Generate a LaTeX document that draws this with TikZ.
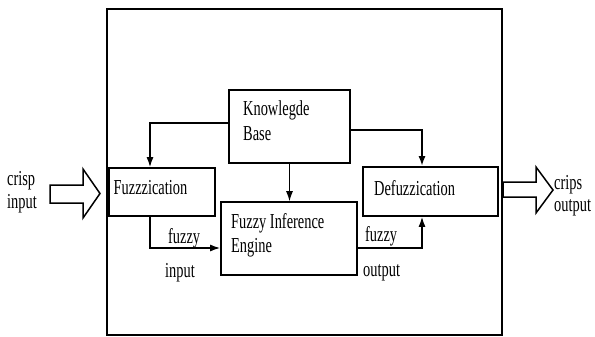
\documentclass[tikz,border=0pt]{standalone}
\usepackage{fontspec}
\usepackage{graphicx}
\setmainfont{Liberation Serif}
\usetikzlibrary{arrows.meta,calc}
\newcommand{\tallt}[1]{\scalebox{1}[1.48]{#1}}
\begin{document}
\begin{tikzpicture}[x=1pt,y=-1pt,
  box/.style={draw,line width=1.6pt,minimum width=#1,inner sep=0pt},
  lbl/.style={anchor=base west,inner sep=0pt,font=\fontsize{14.4}{23}\selectfont},
  arr/.style={line width=1.5pt,-{Latex[length=10pt,width=7pt]}},
  hollow/.style={draw,line width=1.5pt,line join=miter}]
\useasboundingbox (0,0) rectangle (595,337);
% outer frame
\draw[line width=1.3pt] (107,9) rectangle (502,335);
% blocks
\node[box=106pt,minimum height=48pt] (fz) at (162,192) {};
\node[box=121pt,minimum height=73pt] (kb) at (289.5,126.5) {};
\node[box=135pt,minimum height=49pt] (df) at (430.5,191.5) {};
\node[box=136pt,minimum height=73pt] (fie) at (289,238.5) {};
% block texts
\node[lbl] (t1) at (243,115.5) {\tallt{Knowlegde}};
\node[lbl] (t2) at (243,140.5) {\tallt{Base}};
\node[lbl] (t3) at (113.5,194) {\tallt{Fuzzzication}};
\node[lbl] (t4) at (374,195) {\tallt{Defuzzication}};
\node[lbl] (t5) at (231,228) {\tallt{Fuzzy Inference}};
\node[lbl] (t6) at (231,252) {\tallt{Engine}};
% connector labels
\node[lbl] (l1) at (168,243) {\tallt{fuzzy}};
\node[lbl] (l2) at (165,277) {\tallt{input}};
\node[lbl] (l3) at (365,241) {\tallt{fuzzy}};
\node[lbl] (l4) at (363,276) {\tallt{output}};
\node[lbl] (l5) at (7,185.5) {\tallt{crisp}};
\node[lbl] (l6) at (7,208) {\tallt{input}};
\node[lbl] (l7) at (554,189) {\tallt{crips}};
\node[lbl] (l8) at (554,211) {\tallt{output}};
% connectors
\draw[arr] ([yshift=3.5pt]kb.west) -| ([xshift=-12pt]fz.north);
\draw[arr,line width=2.2pt] ([yshift=-3.5pt]kb.east) -| ([xshift=-8.5pt]df.north);
\draw[arr,line width=1.2pt] (kb.south) -- (kb.south |- fie.north);
\draw[arr] ([xshift=-12pt]fz.south) |- ([yshift=-9.5pt]fie.west);
\draw[arr] ([yshift=-9.5pt]fie.east) -| ([xshift=-8.5pt]df.south);
% hollow arrows
\draw[hollow] (50,185) -- (83,185) -- (83,169) -- (100,193.5) -- (83,218) -- (83,203) -- (50,203) -- cycle;
\draw[hollow] (503,182) -- (536,182) -- (536,167) -- (553,190) -- (536,213) -- (536,197) -- (503,197) -- cycle;
\end{tikzpicture}
\end{document}
